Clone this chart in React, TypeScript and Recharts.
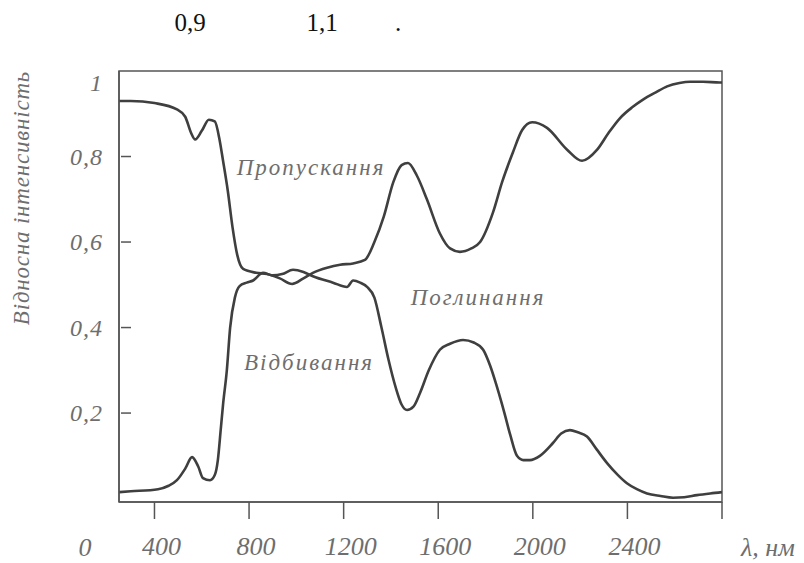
import React from 'react'
import { LineChart, Line, XAxis, YAxis, ReferenceArea } from 'recharts'

// Спектри: пропускання та відбивання, відносна інтенсивність від довжини хвилі

const LINE = '#3f3f3f'
const BOX = '#555555'
const TEXT = '#6e6e6e'
const SERIF = 'Liberation Serif'

const transLambda = [
  250, 300, 400, 495, 530, 555, 572, 600, 630, 655, 675, 690, 710, 730, 750, 775, 830, 876, 930,
  982, 1030, 1070, 1130, 1185, 1240, 1290, 1330, 1370, 1410, 1445, 1472, 1510, 1552, 1607, 1650,
  1692, 1740, 1777, 1832, 1870, 1916, 1955, 1997, 2060, 2145, 2208, 2272, 2320, 2369, 2420, 2466,
  2520, 2568, 2620, 2665, 2720, 2790, 2800,
]
const transValue = [
  0.93, 0.93, 0.925, 0.91, 0.893, 0.855, 0.84, 0.86, 0.886, 0.882, 0.84, 0.79, 0.72, 0.635, 0.57,
  0.537, 0.528, 0.525, 0.515, 0.502, 0.515, 0.528, 0.54, 0.547, 0.55, 0.558, 0.6, 0.66, 0.74, 0.78,
  0.785, 0.755, 0.7, 0.62, 0.585, 0.577, 0.585, 0.6, 0.67, 0.74, 0.81, 0.862, 0.88, 0.867, 0.816,
  0.79, 0.816, 0.855, 0.89, 0.915, 0.933, 0.95, 0.964, 0.972, 0.975, 0.975, 0.973, 0.973,
]

const reflLambda = [
  250, 300, 415, 460, 495, 530, 559, 585, 605, 635, 655, 668, 680, 690, 706, 720, 740, 760, 790,
  817, 859, 900, 940, 986, 1030, 1070, 1155, 1214, 1240, 1270, 1299, 1330, 1360, 1390, 1420, 1445,
  1468, 1495, 1523, 1560, 1607, 1650, 1705, 1750, 1790, 1820, 1849, 1880, 1904, 1933, 1960, 1988,
  2030, 2085, 2120, 2157, 2190, 2229, 2270, 2314, 2360, 2398, 2440, 2483, 2540, 2593, 2640, 2694,
  2750, 2800,
]
const reflValue = [
  0.015, 0.017, 0.022, 0.03, 0.043, 0.07, 0.097, 0.075, 0.048, 0.043, 0.055, 0.09, 0.16, 0.22, 0.3,
  0.4, 0.47, 0.497, 0.505, 0.51, 0.528, 0.522, 0.525, 0.535, 0.53, 0.52, 0.505, 0.495, 0.51, 0.505,
  0.495, 0.47, 0.4, 0.324, 0.26, 0.22, 0.207, 0.215, 0.247, 0.3, 0.348, 0.362, 0.371, 0.365, 0.348,
  0.31, 0.26, 0.2, 0.15, 0.1, 0.09, 0.09, 0.1, 0.13, 0.152, 0.16, 0.155, 0.145, 0.115, 0.083,
  0.055, 0.036, 0.022, 0.012, 0.006, 0.002, 0.003, 0.008, 0.012, 0.015,
]

const xTicks = [400, 800, 1200, 1600, 2000, 2400, 2800]
const xTickLabels = ['400', '800', '1200', '1600', '2000', '2400', '']
const yTicks = [0.2, 0.4, 0.6, 0.8, 1]
const yTickLabels = ['0,2', '0,4', '0,6', '0,8', '1']

const transData = transLambda.map((l, i) => ({ l, v: transValue[i] }))
const reflData = reflLambda.map((l, i) => ({ l, v: reflValue[i] }))

const italic = { fontFamily: SERIF, fontStyle: 'italic', fill: TEXT } as const

function XTick({ x, y, payload }: any) {
  const i = xTicks.indexOf(payload.value)
  return (
    <text x={x + 7} y={y + 34} textAnchor="middle" style={{ ...italic, fontSize: 26 }}>
      {xTickLabels[i]}
    </text>
  )
}

function YTick({ x, y, payload }: any) {
  const i = yTicks.indexOf(payload.value)
  const top = payload.value === 1
  return (
    <g>
      {!top && <line x1={x + 2} x2={x + 12} y1={y} y2={y} stroke={BOX} strokeWidth={1.5} />}
      <text x={x - 16} y={y + (top ? 20 : 8)} textAnchor="end" style={{ ...italic, fontSize: 24, letterSpacing: 1 }}>
        {yTickLabels[i]}
      </text>
    </g>
  )
}

export default function App() {
  return (
    <div style={{ position: 'absolute', left: 0, top: 0, width: 804, height: 563, background: '#fff' }}>
      <LineChart width={804} height={563} margin={{ top: 71, right: 82, bottom: 0, left: 0 }}>
        <XAxis
          type="number"
          dataKey="l"
          domain={[250, 2800]}
          ticks={xTicks}
          allowDataOverflow
          height={61}
          tickSize={17}
          tickLine={{ stroke: BOX, strokeWidth: 1.5 }}
          axisLine={{ stroke: BOX, strokeWidth: 1.5 }}
          tick={<XTick />}
        />
        <YAxis
          type="number"
          domain={[-0.008, 1]}
          ticks={yTicks}
          allowDataOverflow
          width={119}
          tickLine={false}
          tickSize={0}
          tickMargin={0}
          axisLine={{ stroke: BOX, strokeWidth: 1.5 }}
          tick={<YTick />}
        />
        <ReferenceArea x1={250} x2={2800} y1={-0.008} y2={1} fill="none" stroke={BOX} strokeWidth={1.5} ifOverflow="visible" />
        <Line data={transData} dataKey="v" type="monotone" stroke={LINE} strokeWidth={2.6} dot={false} isAnimationActive={false} />
        <Line data={reflData} dataKey="v" type="monotone" stroke={LINE} strokeWidth={2.6} dot={false} isAnimationActive={false} />
      </LineChart>
      <svg width={804} height={563} style={{ position: 'absolute', left: 0, top: 0, pointerEvents: 'none' }}>
        <g style={{ fontFamily: SERIF, fontSize: 25, fill: '#111' }}>
          <text x={190} y={31} textAnchor="middle">0,9</text>
          <text x={322} y={31} textAnchor="middle">1,1</text>
          <text x={398} y={31} textAnchor="middle">.</text>
        </g>
        <text transform="translate(29 198) rotate(-90)" textAnchor="middle" style={{ ...italic, fontSize: 23, letterSpacing: 0.8 }}>
          Відносна інтенсивність
        </text>
        <g style={{ ...italic, fontSize: 23, letterSpacing: 2 }}>
          <text x={311} y={175} textAnchor="middle">Пропускання</text>
          <text x={478} y={305} textAnchor="middle">Поглинання</text>
          <text x={309} y={370} textAnchor="middle">Відбивання</text>
        </g>
        <g style={{ ...italic, fontSize: 26 }}>
          <text x={85} y={556} textAnchor="middle">0</text>
          <text x={768} y={556} textAnchor="middle">λ, нм</text>
        </g>
      </svg>
    </div>
  )
}
